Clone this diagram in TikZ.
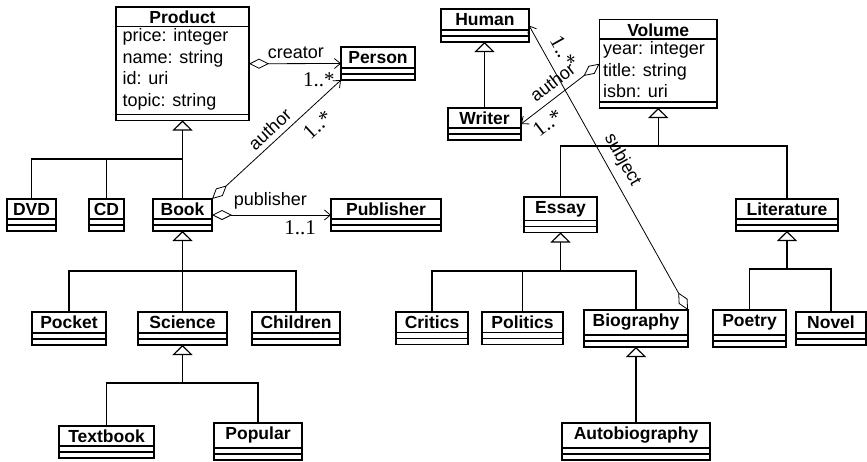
\documentclass[tikz,border=0pt]{standalone}
\usepackage{fontspec}
\setmainfont{Liberation Sans}
\newfontfamily\multfont{Liberation Serif}
\usetikzlibrary{arrows.meta,calc}

\tikzset{
  classbox/.style={draw, rectangle, line width=1.3pt, inner sep=0pt, outer sep=0pt},
  classname/.style={font=\fontsize{17.5}{20}\selectfont\bfseries, inner sep=0pt, anchor=base},
  attr/.style={font=\fontsize{18}{21}\selectfont, inner sep=0pt, anchor=base west},
  sepline/.style={line width=1.1pt},
  genline/.style={line width=1.1pt},
  gen/.style={genline, -{Triangle[open, length=10pt, width=20pt, line width=1.1pt]}},
  assoc/.style={line width=0.8pt},
  aggr/.style={assoc, {Diamond[open, length=20pt, width=10pt]}-{Straight Barb[length=6pt, width=10pt]}},
  raggr/.style={assoc, {Straight Barb[length=6pt, width=10pt]}-{Diamond[open, length=20pt, width=10pt]}},
  role/.style={font=\fontsize{18}{21}\selectfont, inner sep=1pt, sloped},
  mult/.style={font=\multfont\fontsize{21}{23}\selectfont, inner sep=1pt, sloped},
}

% class with a name compartment and two empty compartments
% #1 node name, #2 left, #3 top, #4 right, #5 bottom, #6 class name
\newcommand\umlclass[6]{%
  \node[classbox, minimum width={(#4-#2)*1pt}, minimum height={(#5-#3)*1pt}]
    (#1) at ({(#2+#4)/2},{(#3+#5)/2}) {};
  \node[classname] (#1-name) at ({(#2+#4)/2},{#3+16.6}) {#6};
  \draw[sepline] (#2,{#5-12}) -- (#4,{#5-12});
  \draw[sepline] (#2,{#5-6}) -- (#4,{#5-6});
}

\begin{document}
\begin{tikzpicture}[x=1pt, y=-1pt]
\useasboundingbox (0,0) rectangle (867,461);

% ---------- Product hierarchy ----------
\node[classbox, minimum width=133pt, minimum height=113.5pt] (product) at (182.5,63.75) {};
\node[classname] (product-name) at (182.5,23.6) {Product};
\draw[sepline] (116,26.5) -- (249,26.5);
\draw[sepline] (116,114.5) -- (249,114.5);
\node[attr] (product-a1) at (122.5,41.7) {price: integer};
\node[attr] (product-a2) at (122.5,63.2) {name: string};
\node[attr] (product-a3) at (122.5,84.7) {id: uri};
\node[attr] (product-a4) at (122.5,106.2) {topic: string};

\umlclass{person}{341}{47}{415}{80}{Person}
\umlclass{dvd}{7}{199}{56}{231}{DVD}
\umlclass{cd}{89}{199}{124}{231}{CD}
\umlclass{book}{153}{199}{212}{231}{Book}
\umlclass{publisher}{331}{199}{441}{231}{Publisher}
\umlclass{pocket}{32}{312}{106}{345}{Pocket}
\umlclass{science}{138}{312}{227}{345}{Science}
\umlclass{children}{252}{312}{340}{345}{Children}
\umlclass{textbook}{59}{426}{154}{458}{Textbook}
\umlclass{popular}{214}{423}{302}{460}{Popular}

% ---------- Volume hierarchy ----------
\umlclass{human}{441}{9}{529}{42}{Human}
\umlclass{writer}{448}{108}{521}{140}{Writer}

\node[classbox, minimum width=117.5pt, minimum height=88.5pt] (volume) at (658.25,63.75) {};
\node[classname] (volume-name) at (658.25,36.1) {Volume};
\draw[sepline] (599.5,39) -- (717,39);
\draw[sepline] (599.5,102) -- (717,102);
\node[attr] (volume-a1) at (603,54.5) {year: integer};
\node[attr] (volume-a2) at (603,76) {title: string};
\node[attr] (volume-a3) at (603,97.5) {isbn: uri};

\umlclass{essay}{524}{197}{597}{232.5}{Essay}
\umlclass{literature}{736}{199}{838}{231}{Literature}
\umlclass{critics}{396}{312}{468}{344.5}{Critics}
\umlclass{politics}{482}{312}{563}{344.5}{Politics}
\umlclass{biography}{584}{310}{688}{347}{Biography}
\umlclass{autobiography}{562}{423}{710}{460}{Autobiography}
\umlclass{poetry}{713}{310}{786}{347}{Poetry}
\umlclass{novel}{796}{312}{866}{345}{Novel}

% ---------- generalizations ----------
\coordinate (prodbus) at (182.5,159);
\draw[genline] (dvd.north) |- (prodbus);
\draw[genline] (cd.north) |- (prodbus);
\draw[gen] (book.north) -- (product.south);

\coordinate (bookbus) at (182.5,271);
\draw[genline] (pocket.north) |- (bookbus);
\draw[genline] (children.north) |- (bookbus);
\draw[gen] (science.north) -- (book.south);

\coordinate (scibus) at (182.5,383);
\draw[genline] (textbook.north) |- (scibus);
\draw[genline] (popular.north) |- (scibus);
\draw[gen] (scibus) -- (science.south);

\draw[gen] (writer.north) -- (writer.north |- human.south);

\coordinate (volbus) at (658.25,146);
\draw[genline] (essay.north) |- (volbus);
\draw[genline] (literature.north) |- (volbus);
\draw[gen] (volbus) -- (volume.south);

\coordinate (essaybus) at (560.5,271);
\draw[genline] (critics.north) |- (essaybus);
\draw[genline] (politics.north) |- (essaybus);
\draw[genline] (biography.north) |- (essaybus);
\draw[gen] (essaybus) -- (essay.south);

\coordinate (litbus) at (787,269);
\draw[genline] (poetry.north) |- (litbus);
\draw[genline] (novel.north) |- (litbus);
\draw[gen] (litbus) -- (literature.south);

\draw[gen] (autobiography.north) -- (biography.south);

% ---------- associations ----------
\draw[aggr] (product.east) --
  node[role, above=4pt, pos=0.51] (lbl-creator) {creator}
  node[mult, below=8pt, pos=0.76] (mul-creator) {1..*} (person.west);
\draw[aggr] (book.north east) --
  node[role, above=4pt, pos=0.51] (lbl-author) {author}
  node[mult, below=8.5pt, pos=0.73] (mul-author) {1..*} (person.south west);
\draw[aggr] (book.east) --
  node[role, above=4pt, pos=0.49] (lbl-publisher) {publisher}
  node[mult, below=4pt, pos=0.74] (mul-publisher) {1..1} (publisher.west);
\draw[raggr] (writer.east) --
  node[role, above=6pt, pos=0.51] (lbl-wauthor) {author}
  node[mult, below=7pt, pos=0.22] (mul-wauthor) {1..*} (volume.west);
\draw[raggr] (human.east) --
  node[role, above=6pt, pos=0.5] (lbl-subject) {subject}
  node[mult, above=8.5pt, pos=0.12] (mul-subject) {1..*} (biography.north east);
\end{tikzpicture}
\end{document}
